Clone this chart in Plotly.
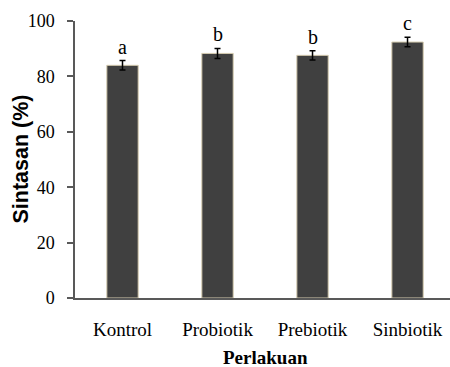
import plotly.graph_objects as go

categories = ["Kontrol", "Probiotik", "Prebiotik", "Sinbiotik"]
survival = [84.0, 88.3, 87.6, 92.4]
errors = [1.7, 1.8, 1.7, 1.7]
letters = ["a", "b", "b", "c"]
y_ticks = [0, 20, 40, 60, 80, 100]

serif = "Liberation Serif, Times New Roman, serif"
tick_font = dict(family=serif, size=19, color="black")

fig = go.Figure()
fig.add_trace(go.Bar(
    x=categories, y=survival, width=0.33,
    marker=dict(color="#404040", line=dict(color="#d6ccb0", width=1)),
    error_y=dict(type="data", array=errors, visible=True, color="black",
                 thickness=1.5, width=3),
))

for c, v, e, t in zip(categories, survival, errors, letters):
    fig.add_annotation(x=c, y=v + e, text=t, showarrow=False, yanchor="bottom",
                       yshift=1, font=dict(family=serif, size=20, color="black"))

# axis titles
fig.add_annotation(xref="paper", yref="paper", x=0.5, y=0, xshift=3, yshift=-59,
                   text="<b>Perlakuan</b>", showarrow=False,
                   xanchor="center", yanchor="middle",
                   font=dict(family=serif, size=19, color="black"))
fig.add_annotation(xref="paper", yref="paper", x=0, y=0.5, xshift=-55,
                   text="<b>Sintasan (%)</b>", showarrow=False, textangle=-90,
                   xanchor="center", yanchor="middle",
                   font=dict(family="Liberation Sans Narrow, Arial Narrow, Liberation Sans, sans-serif",
                             size=21.5, color="black"))

fig.update_layout(
    width=450, height=367,
    margin=dict(l=75, r=0, t=21, b=69),
    plot_bgcolor="white", paper_bgcolor="white",
    showlegend=False,
    font=dict(family=serif, size=19, color="black"),
    xaxis=dict(
        range=[-0.5, 3.447], showline=True, linecolor="#595959", linewidth=1.5,
        ticks="", showgrid=False, ticklabelstandoff=13, automargin=False,
        tickfont=tick_font,
    ),
    yaxis=dict(
        range=[0, 100], tickvals=y_ticks, showline=True, linecolor="#595959",
        linewidth=1.5, ticks="outside", ticklen=6, tickcolor="#595959",
        tickwidth=1.5, showgrid=False, zeroline=False, ticklabelstandoff=9,
        automargin=False, tickfont=dict(family=serif, size=18, color="black"),
    ),
)

fig.write_html("out.html", config={"displayModeBar": False},
               post_script="document.body.style.margin='0';")
